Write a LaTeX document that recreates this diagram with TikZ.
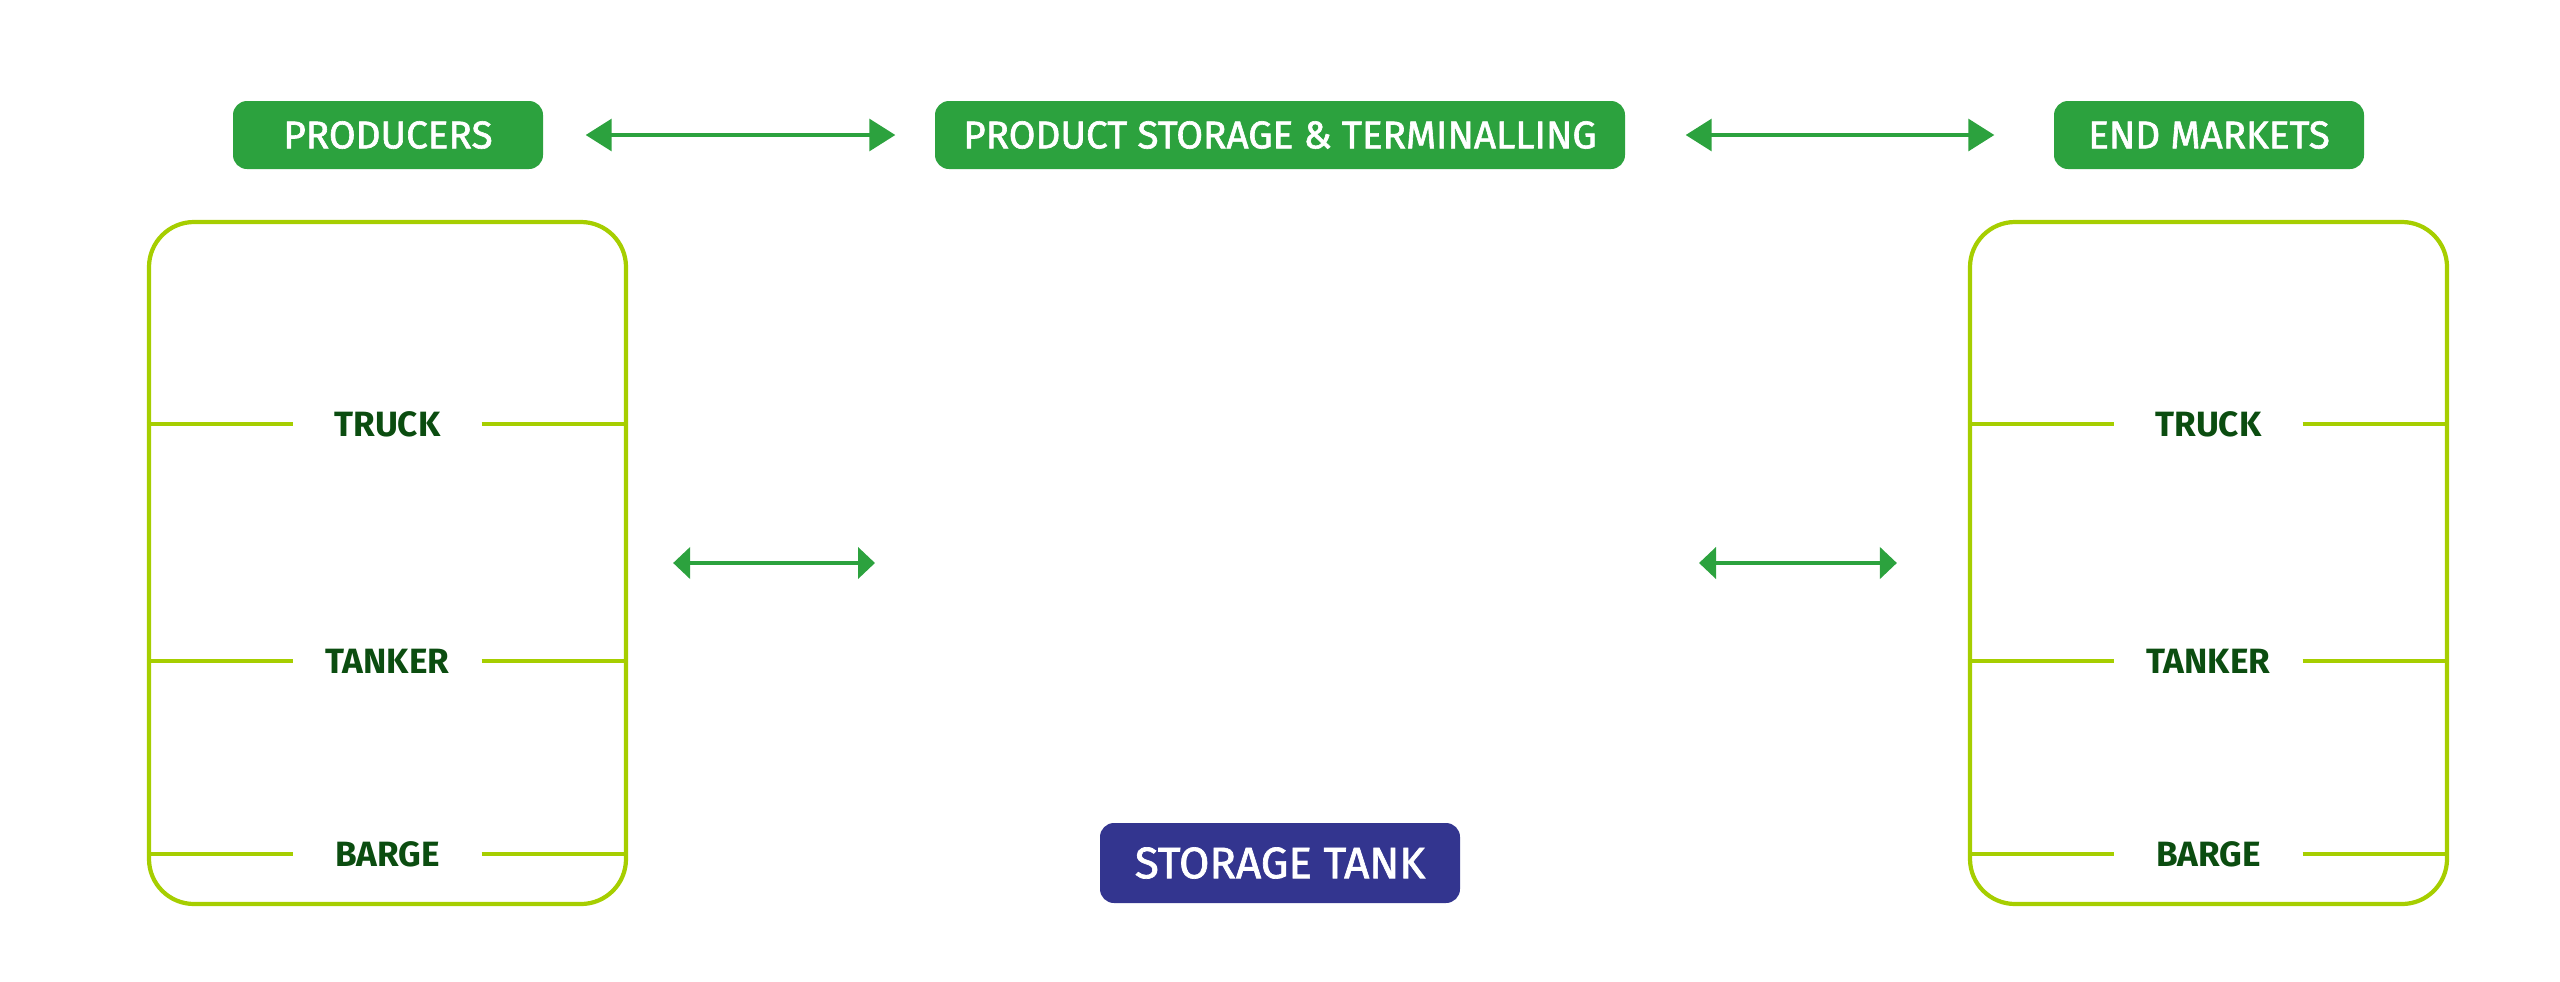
\documentclass[tikz,border=0pt]{standalone}
\usepackage{fontspec}
\setmainfont{Fira Sans}
\newfontfamily\headfont{Fira Sans}[FakeBold=1.6]
\usepackage{tikz}
\usetikzlibrary{shapes,positioning,arrows,arrows.meta,calc}

\definecolor{hdgreen}{RGB}{44,162,62}
\definecolor{lime}{RGB}{166,206,0}
\definecolor{darkgreen}{RGB}{11,77,16}
\definecolor{navy}{RGB}{51,53,143}

\begin{document}
\begin{tikzpicture}[x=1cm,y=-1cm,
        head/.style={fill=hdgreen,text=white,rounded corners=0.14cm,minimum height=0.68cm,
            inner sep=0pt,font=\headfont\fontsize{11}{13}\selectfont},
        box/.style={draw=lime,line width=1.2pt,rounded corners=0.45cm,minimum width=4.77cm,
            minimum height=6.82cm,inner sep=0pt},
        mode/.style={text=darkgreen,minimum width=1.87cm,inner sep=0pt,
            font=\fontsize{10}{12}\selectfont\bfseries},
        div/.style={draw=lime,line width=1.2pt},
        toparr/.style={draw=hdgreen,line width=0.9pt,{Triangle[length=0.26cm,width=0.32cm]}-{Triangle[length=0.26cm,width=0.32cm]}},
        midarr/.style={draw=hdgreen,line width=1.4pt,{Triangle[length=0.17cm,width=0.31cm]}-{Triangle[length=0.17cm,width=0.31cm]}}]
        \useasboundingbox (0,0) rectangle (25.6,9.81);
        \node[head,minimum width=3.1cm] (producers) at (3.88,1.35) {PRODUCERS};
        \node[head,minimum width=6.9cm] (storage) at (12.8,1.35) {PRODUCT STORAGE \& TERMINALLING};
        \node[head,minimum width=3.1cm] (markets) at (22.09,1.35) {END MARKETS};
        \draw[toparr,shorten <=0.42cm,shorten >=0.39cm] (producers.east) -- (storage.west);
        \draw[toparr,shorten <=0.60cm,shorten >=0.59cm] (storage.east) -- (markets.west);
        % producers side
        \node[box] (prodbox) at (3.875,5.63) {};
        \node[mode] (ptruck) at (prodbox.center |- 0,4.24) {TRUCK};
        \node[mode] (ptanker) at (prodbox.center |- 0,6.61) {TANKER};
        \node[mode] (pbarge) at (prodbox.center |- 0,8.54) {BARGE};
        \draw[div] (prodbox.west |- ptruck) -- (ptruck.west);
        \draw[div] (ptruck.east) -- (prodbox.east |- ptruck);
        \draw[div] (prodbox.west |- ptanker) -- (ptanker.west);
        \draw[div] (ptanker.east) -- (prodbox.east |- ptanker);
        \draw[div] (prodbox.west |- pbarge) -- (pbarge.west);
        \draw[div] (pbarge.east) -- (prodbox.east |- pbarge);
        % end markets side
        \node[box] (endbox) at (22.085,5.63) {};
        \node[mode] (etruck) at (endbox.center |- 0,4.24) {TRUCK};
        \node[mode] (etanker) at (endbox.center |- 0,6.61) {TANKER};
        \node[mode] (ebarge) at (endbox.center |- 0,8.54) {BARGE};
        \draw[div] (endbox.west |- etruck) -- (etruck.west);
        \draw[div] (etruck.east) -- (endbox.east |- etruck);
        \draw[div] (endbox.west |- etanker) -- (etanker.west);
        \draw[div] (etanker.east) -- (endbox.east |- etanker);
        \draw[div] (endbox.west |- ebarge) -- (ebarge.west);
        \draw[div] (ebarge.east) -- (endbox.east |- ebarge);
        % middle arrows
        \coordinate (pmid) at (8.75,5.63);
        \coordinate (emid) at (16.99,5.63);
        \draw[midarr,shorten <=0.45cm] (prodbox.east) -- (pmid);
        \draw[midarr,shorten >=0.71cm] (emid) -- (endbox.west);
        \node[fill=navy,text=white,rounded corners=0.14cm,minimum width=3.6cm,minimum height=0.8cm,
            inner sep=0pt,font=\headfont\fontsize{12.5}{15}\selectfont] (tank) at (12.8,8.63) {STORAGE TANK};
    \end{tikzpicture}
\end{document}
